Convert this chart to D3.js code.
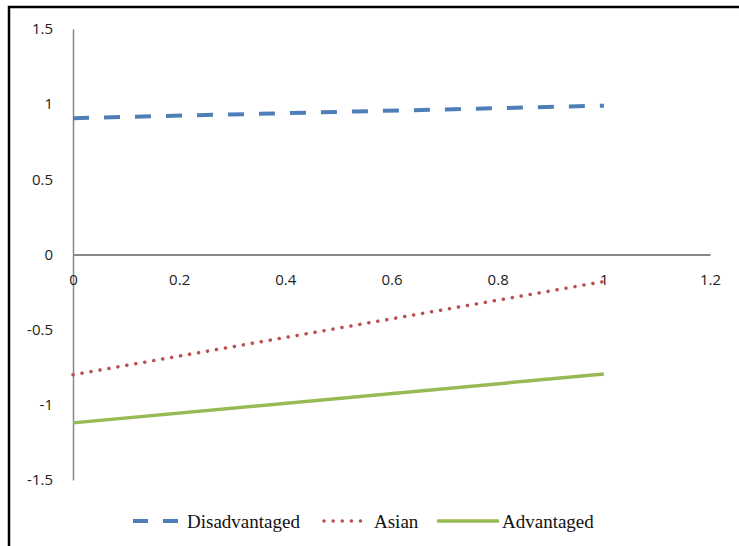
<!DOCTYPE html>
<html><head><meta charset="utf-8">
<script src="https://cdn.jsdelivr.net/npm/d3@7"></script>
<style>body{margin:0;background:#fff}svg{display:block}</style>
</head><body>
<svg id="c" width="739" height="546"></svg>
<script>
const xValues = [0, 1];
const disadvantaged = [0.907, 0.99];
const asian = [-0.80, -0.18];
const advantaged = [-1.12, -0.795];
const seriesNames = ["Disadvantaged", "Asian", "Advantaged"];
const xTicks = [0, 0.2, 0.4, 0.6, 0.8, 1, 1.2];
const yTicks = [1.5, 1, 0.5, 0, -0.5, -1, -1.5];

const svg = d3.select("#c");
svg.append("rect").attr("x", 9).attr("y", 7).attr("width", 760).attr("height", 560)
  .attr("fill", "none").attr("stroke", "#000").attr("stroke-width", 2.5);

const x = d3.scaleLinear().domain([0, 1.2]).range([73, 710]);
const y = d3.scaleLinear().domain([-1.5, 1.5]).range([480, 29]);

const axisColor = "#888";
const fmt = d => String(d);
const ya = svg.append("g").attr("transform", `translate(${x(0)},0)`)
  .call(d3.axisLeft(y).tickValues(yTicks).tickSize(0).tickPadding(20).tickFormat(fmt));
ya.select(".domain").attr("stroke", axisColor).attr("stroke-width", 1.5);
ya.selectAll("text").attr("font-family", "'Open Sans', sans-serif").attr("font-size", 15).attr("fill", "#222");
const xa = svg.append("g").attr("transform", `translate(0,${y(0)})`)
  .call(d3.axisBottom(x).tickValues(xTicks).tickSize(0).tickPadding(20).tickFormat(fmt));
xa.select(".domain").attr("stroke", axisColor).attr("stroke-width", 2);
xa.selectAll("text").attr("font-family", "'Open Sans', sans-serif").attr("font-size", 15).attr("fill", "#222");

const styles = [
  {name: seriesNames[0], data: disadvantaged, color: "#4F7FB8", width: 4, dash: "16,15", cap: "butt"},
  {name: seriesNames[1], data: asian, color: "#B9504E", width: 3.5, dash: "0.1,9", cap: "round"},
  {name: seriesNames[2], data: advantaged, color: "#98BA55", width: 3.5, dash: null, cap: "butt"}
];
const line = d3.line().x((d, i) => x(xValues[i])).y(d => y(d));
styles.forEach(s => {
  svg.append("path").datum(s.data).attr("d", line).attr("fill", "none")
    .attr("stroke", s.color).attr("stroke-width", s.width)
    .attr("stroke-dasharray", s.dash).attr("stroke-linecap", s.cap);
});

const legY = 521;
const legendItems = [
  {x1: 133, x2: 180, tx: 187},
  {x1: 324, x2: 368, tx: 374},
  {x1: 437, x2: 499, tx: 502}
];
styles.forEach((s, i) => {
  const L = legendItems[i];
  svg.append("line").attr("x1", L.x1).attr("x2", L.x2).attr("y1", legY).attr("y2", legY)
    .attr("stroke", s.color).attr("stroke-width", s.width)
    .attr("stroke-dasharray", i === 0 ? "15,15" : s.dash).attr("stroke-linecap", s.cap);
  svg.append("text").attr("x", L.tx).attr("y", legY).attr("dy", "0.35em")
    .attr("font-family", "'Liberation Serif', 'Times New Roman', serif").attr("font-size", 19)
    .attr("fill", "#111").text(s.name);
});
</script>
</body></html>
